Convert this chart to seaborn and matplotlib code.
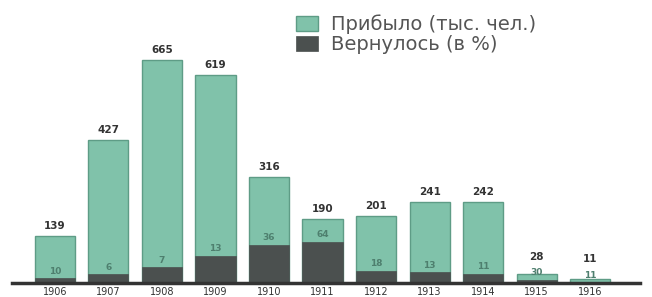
import pandas as pd
import matplotlib
matplotlib.use("Agg")
import matplotlib.pyplot as plt
import seaborn as sns

# data
years = ["1906", "1907", "1908", "1909", "1910", "1911", "1912", "1913", "1914", "1915", "1916"]
arrived = [139, 427, 665, 619, 316, 190, 201, 241, 242, 28, 11]   # тыс. чел.
returned_pct = [10, 6, 7, 13, 36, 64, 18, 13, 11, 30, 11]          # в %

df = pd.DataFrame({"year": years, "arrived": arrived, "pct": returned_pct})
# dark part of each bar = share of arrivals that returned
df["returned"] = df["arrived"] * df["pct"] / 100

green = "#80c2aa"
green_edge = "#5e9c86"
dark = "#4b504f"

sns.set_style("white")
plt.rcParams["font.family"] = ["DejaVu Sans"]

fig = plt.figure(figsize=(6.52, 2.97), dpi=100)
ax = fig.add_axes([12 / 652, 14 / 297, 628 / 652, 283 / 297])

sns.barplot(data=df, x="year", y="arrived", color=green, edgecolor=green_edge,
            linewidth=1, width=0.75, saturation=1, label="Прибыло (тыс. чел.)", ax=ax)
sns.barplot(data=df, x="year", y="returned", color=dark, edgecolor=dark,
            linewidth=0.5, width=0.75, saturation=1, label="Вернулось (в %)", ax=ax)

ymax = 844
ax.set_ylim(0, ymax)
ax.set_xlim(-0.8, 10.93)

for i, row in df.iterrows():
    y_in = row["returned"] + ymax * 0.01
    y_top = max(row["arrived"] + ymax * 0.018, y_in + ymax * 0.055)
    ax.text(i, y_top, str(row["arrived"]), ha="center", va="bottom",
            fontsize=7.5, fontweight="bold", color="#333333")
    ax.text(i, y_in, str(row["pct"]), ha="center", va="bottom",
            fontsize=6.5, fontweight="bold", color="#4e7f6e")

for s in ["top", "right", "left"]:
    ax.spines[s].set_visible(False)
ax.spines["bottom"].set_linewidth(2.5)
ax.spines["bottom"].set_color("#333333")
ax.set_yticks([])
ax.set_xlabel("")
ax.set_ylabel("")
ax.tick_params(axis="x", length=0, pad=3, labelsize=7, labelcolor="#333333")

ax.legend(loc="upper left", bbox_to_anchor=(0.425, 1.01), frameon=False, fontsize=14,
          handlelength=1.1, handleheight=0.8, handletextpad=0.7, labelspacing=0.05,
          labelcolor="#555555")

fig.savefig("out.png", dpi=100)
